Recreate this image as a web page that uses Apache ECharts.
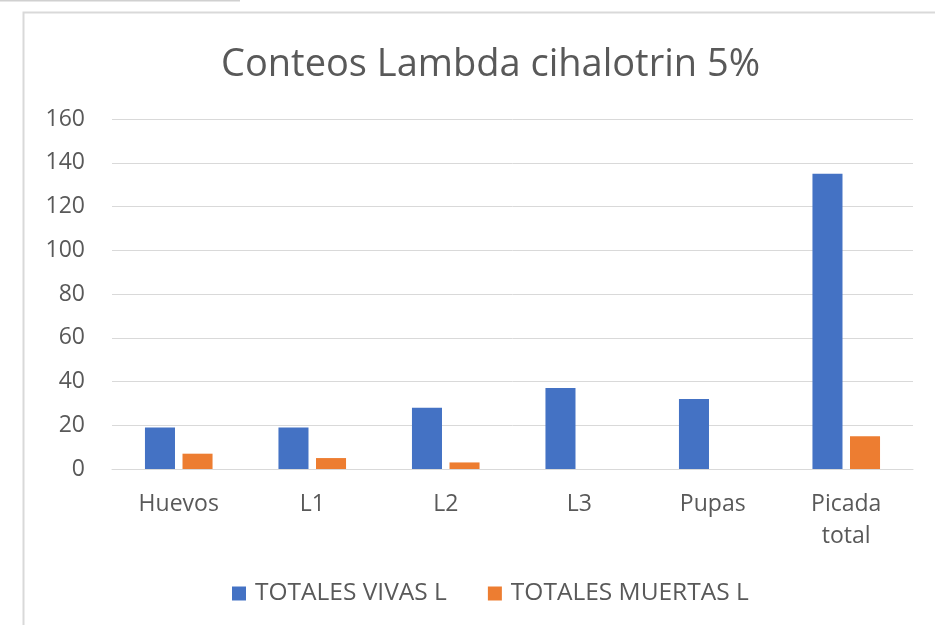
<!DOCTYPE html>
<html>
<head>
<meta charset="utf-8">
<script src="https://cdn.jsdelivr.net/npm/echarts@6/dist/echarts.min.js"></script>
<style>
html,body{margin:0;padding:0;background:#fff;}
#chart{width:935px;height:625px;}
</style>
</head>
<body>
<div id="chart"></div>
<script>
const categories = ['Huevos', 'L1', 'L2', 'L3', 'Pupas', 'Picada\ntotal'];
const vivas = [19, 19, 28, 37, 32, 135];
const muertas = [7, 5, 3, 0, 0, 15];
const seriesNames = ['TOTALES VIVAS L', 'TOTALES MUERTAS L'];
const titleText = 'Conteos Lambda cihalotrin 5%';

const FONT = 'Open Sans';
const chart = echarts.init(document.getElementById('chart'));
chart.setOption({
  animation: false,
  backgroundColor: '#ffffff',
  title: {
    text: titleText,
    left: 216,
    top: 41,
    textStyle: { fontFamily: FONT, fontSize: 38, fontWeight: 'normal', color: '#595959' }
  },
  graphic: [
    { type: 'rect', shape: { x: 23.5, y: 12.5, width: 1000, height: 700 },
      style: { fill: 'none', stroke: '#d9d9d9', lineWidth: 2 }, silent: true, z: -1 },
    { type: 'line', shape: { x1: 0, y1: 0.5, x2: 240, y2: 0.5 },
      style: { stroke: '#d0d0d0', lineWidth: 2 }, silent: true }
  ],
  legend: {
    data: seriesNames,
    bottom: 14,
    left: 227,
    itemWidth: 14,
    itemHeight: 14,
    itemGap: 41,
    icon: 'rect',
    textStyle: { fontFamily: FONT, fontSize: 24.5, color: '#595959', padding: [0, 0, 0, 4] }
  },
  grid: { left: 112, right: 22, top: 119, bottom: 156, containLabel: false },
  xAxis: {
    type: 'category',
    data: categories,
    axisLine: { show: true, lineStyle: { color: '#d9d9d9', width: 1 } },
    axisTick: { show: false },
    axisLabel: { fontFamily: FONT, fontSize: 23, color: '#595959', margin: 19, lineHeight: 32, interval: 0 }
  },
  yAxis: {
    type: 'value',
    min: 0, max: 160, interval: 20,
    axisLine: { show: false },
    axisTick: { show: false },
    splitLine: { lineStyle: { color: '#d9d9d9', width: 1 } },
    axisLabel: { fontFamily: FONT, fontSize: 23, color: '#595959', margin: 27 }
  },
  series: [
    { name: seriesNames[0], type: 'bar', data: vivas, barWidth: '22.5%', barGap: '25%',
      itemStyle: { color: '#4472C4' } },
    { name: seriesNames[1], type: 'bar', data: muertas, barWidth: '22.5%',
      itemStyle: { color: '#ED7D31' } }
  ]
});
</script>
</body>
</html>
